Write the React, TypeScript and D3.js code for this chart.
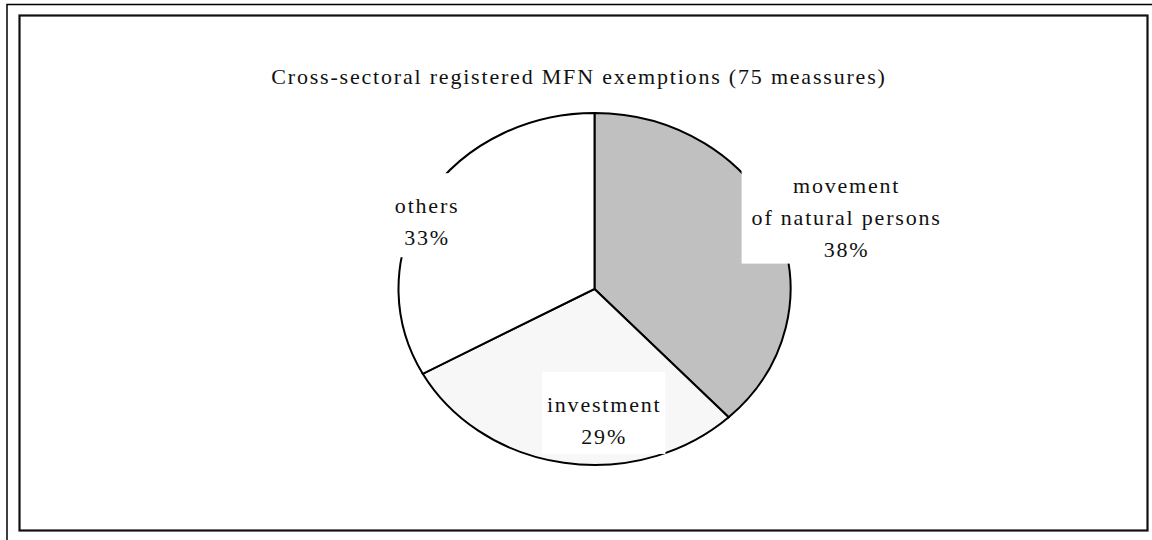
import React, { useEffect, useRef } from 'react';
import * as d3 from 'd3';

const title = 'Cross-sectoral registered MFN exemptions (75 meassures)';
const categories = ['movement\nof natural persons', 'investment', 'others'];
const shares = [38, 29, 33];
const sliceColors = ['#c0c0c0', '#f7f7f7', '#ffffff'];

// label nudges relative to the arc centroid, and padding of the white label boxes (layout only)
const labelShift = [
  { dx: 161, dy: -39 },
  { dx: 25, dy: 45 },
  { dx: -83, dy: -22 },
];
const boxPad = [
  { t: 2, r: 10, b: 2, l: 10 },
  { t: 20, r: 4, b: 5, l: 5 },
  { t: 20, r: 8, b: 7, l: 8 },
];

export default function App() {
  const svgRef = useRef<SVGSVGElement | null>(null);

  useEffect(() => {
    const width = 1152;
    const height = 540;
    const svg = d3.select(svgRef.current);
    svg.selectAll('*').remove();

    // --- Frame ---
    svg.append('rect')
      .attr('x', 7).attr('y', 4.5)
      .attr('width', width).attr('height', height)
      .attr('fill', 'none').attr('stroke', '#000').attr('stroke-width', 1.5);
    svg.append('rect')
      .attr('x', 19.5).attr('y', 15.5)
      .attr('width', 1128).attr('height', 515)
      .attr('fill', '#fff').attr('stroke', '#111').attr('stroke-width', 2.2);

    const font = '"Liberation Serif", "Times New Roman", Times, serif';

    // --- Title ---
    svg.append('text')
      .attr('x', 579)
      .attr('y', 84)
      .attr('text-anchor', 'middle')
      .style('font-family', font)
      .style('font-size', '22px')
      .style('letter-spacing', '1.8px')
      .attr('fill', '#111')
      .text(title);

    // --- Pie (elliptical) ---
    const cx = 594.5;
    const cy = 289;
    const rx = 196;
    const ry = 176;

    const pie = d3.pie<number>().sort(null).value(d => d);
    const arcs = pie(shares);
    const arc = d3.arc<d3.PieArcDatum<number>>().innerRadius(0).outerRadius(ry);

    const g = svg.append('g')
      .attr('transform', `translate(${cx},${cy}) scale(${rx / ry},1)`);

    g.selectAll('path.slice')
      .data(arcs)
      .enter()
      .append('path')
      .attr('class', 'slice')
      .attr('d', arc)
      .attr('fill', (d, i) => sliceColors[i])
      .attr('stroke', '#000')
      .attr('stroke-width', 2)
      .attr('vector-effect', 'non-scaling-stroke');

    // --- Labels with white boxes ---
    const labels = svg.append('g');
    arcs.forEach((d, i) => {
      const [ax, ay] = arc.centroid(d);
      const lx = cx + ax * (rx / ry) + labelShift[i].dx;
      const ly = cy + ay + labelShift[i].dy;
      const lines = [...categories[i].split('\n'), `${shares[i]}%`];
      const lineH = 32;
      const lg = labels.append('g');
      const box = lg.append('rect').attr('fill', '#fff');
      const txt = lg.append('text')
        .attr('text-anchor', 'middle')
        .style('font-family', font)
        .style('font-size', '22px')
        .style('letter-spacing', '1.8px')
        .attr('fill', '#111');
      lines.forEach((ln, j) => {
        txt.append('tspan')
          .attr('x', lx)
          .attr('y', ly + (j - (lines.length - 1) / 2) * lineH + 7)
          .text(ln);
      });
      const bb = (txt.node() as SVGTextElement).getBBox();
      const p = boxPad[i];
      box.attr('x', bb.x - p.l).attr('y', bb.y - p.t)
        .attr('width', bb.width + p.l + p.r).attr('height', bb.height + p.t + p.b);
    });
  }, []);

  return (
    <div style={{ position: 'absolute', left: 0, top: 0 }}>
      <svg ref={svgRef} width={1152} height={540} style={{ display: 'block' }} />
    </div>
  );
}
